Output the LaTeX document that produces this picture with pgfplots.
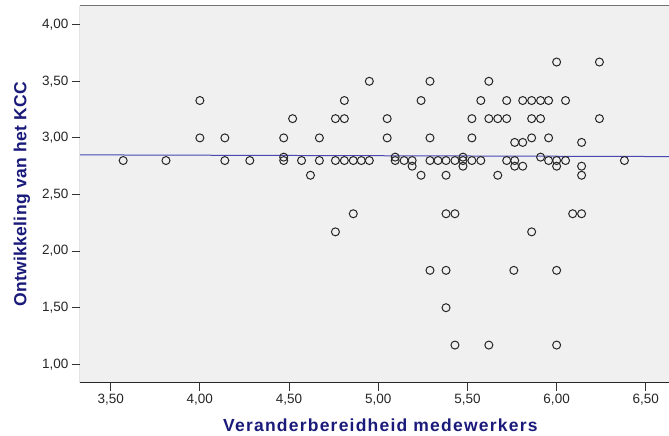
\documentclass[border=0pt]{standalone}
\usepackage{fontspec}
\setmainfont{Liberation Sans}
\newfontfamily\xlabfont[LetterSpace=7]{Liberation Sans}
\newfontfamily\ylabfont[LetterSpace=2]{Liberation Sans}
\usepackage{pgfplots}
\pgfplotsset{compat=1.18}
\definecolor{bgray}{RGB}{240,240,240}
\definecolor{lblue}{RGB}{26,26,122}
\definecolor{fitblue}{RGB}{72,72,176}
\begin{document}
\begin{tikzpicture}
\begin{axis}[
 scale only axis, width=589pt, height=377pt,
 xmin=3.328, xmax=6.63, ymin=0.835, ymax=4.165,
 axis background/.style={fill=bgray},
 axis line style={draw=none},
 xtick={3.5,4,4.5,5,5.5,6,6.5}, ytick={1,1.5,2,2.5,3,3.5,4},
 xtick pos=bottom, ytick pos=left, tick align=outside,
 major tick length=8pt,
 every tick/.style={black!80, line width=1pt},
 /pgf/number format/fixed, /pgf/number format/fixed zerofill,
 /pgf/number format/precision=2, /pgf/number format/use comma,
 /pgf/number format/assume math mode=true,
 ticklabel style={font=\fontsize{13.5}{15}\selectfont, black!85},
 xlabel={Veranderbereidheid medewerkers}, ylabel={Ontwikkeling van het KCC},
 xlabel style={font=\xlabfont\bfseries\fontsize{17.5}{20}\selectfont, lblue, at={(axis description cs:0.51,-0.111)}, anchor=center},
 ylabel style={font=\ylabfont\bfseries\fontsize{17.5}{20}\selectfont, lblue, at={(axis description cs:-0.0985,0.5)}, anchor=center},
]
\addplot[fitblue, line width=1pt] coordinates {(3.328,2.85) (6.63,2.835)};
\addplot[only marks, mark=o, mark size=4pt, mark options={line width=1pt, black!85}] table {
x y
3.57 2.80
3.81 2.80
4.00 3.33
4.00 3.00
4.14 3.00
4.14 2.80
4.28 2.80
4.47 3.00
4.47 2.83
4.47 2.80
4.52 3.17
4.57 2.80
4.62 2.67
4.67 3.00
4.67 2.80
4.76 3.17
4.76 2.80
4.76 2.17
4.81 3.33
4.81 3.17
4.81 2.80
4.86 2.80
4.86 2.33
4.905 2.80
4.95 3.50
4.95 2.80
5.05 3.17
5.05 3.00
5.095 2.83
5.095 2.80
5.145 2.80
5.19 2.80
5.19 2.75
5.24 3.33
5.24 2.67
5.29 3.50
5.29 3.00
5.29 2.80
5.29 1.83
5.335 2.80
5.38 2.80
5.38 2.67
5.38 2.33
5.38 1.83
5.38 1.50
5.43 2.80
5.43 2.33
5.43 1.17
5.475 2.83
5.475 2.80
5.475 2.75
5.525 3.17
5.525 3.00
5.525 2.80
5.575 3.33
5.575 2.80
5.62 3.50
5.62 3.17
5.62 1.17
5.67 3.17
5.67 2.67
5.72 3.33
5.72 3.17
5.72 2.80
5.765 2.96
5.765 2.80
5.765 2.75
5.76 1.83
5.81 3.33
5.81 2.96
5.81 2.75
5.86 3.33
5.86 3.17
5.86 3.00
5.86 2.17
5.91 3.33
5.91 3.17
5.91 2.83
5.955 3.33
5.955 3.00
5.955 2.80
6.00 3.67
6.00 2.80
6.00 2.75
6.00 1.83
6.00 1.17
6.05 3.33
6.05 2.80
6.09 2.33
6.14 2.96
6.14 2.75
6.14 2.67
6.14 2.33
6.24 3.67
6.24 3.17
6.38 2.80
};
\draw[black!55, line width=1pt] (rel axis cs:0,1) -- (rel axis cs:1,1);
\draw[black!85, line width=1pt] (rel axis cs:0,1) -- (rel axis cs:0,0) -- (rel axis cs:1,0);
\end{axis}
\pgfresetboundingbox
\useasboundingbox (-80pt,-53pt) rectangle (589pt,383pt);
\end{tikzpicture}
\end{document}
